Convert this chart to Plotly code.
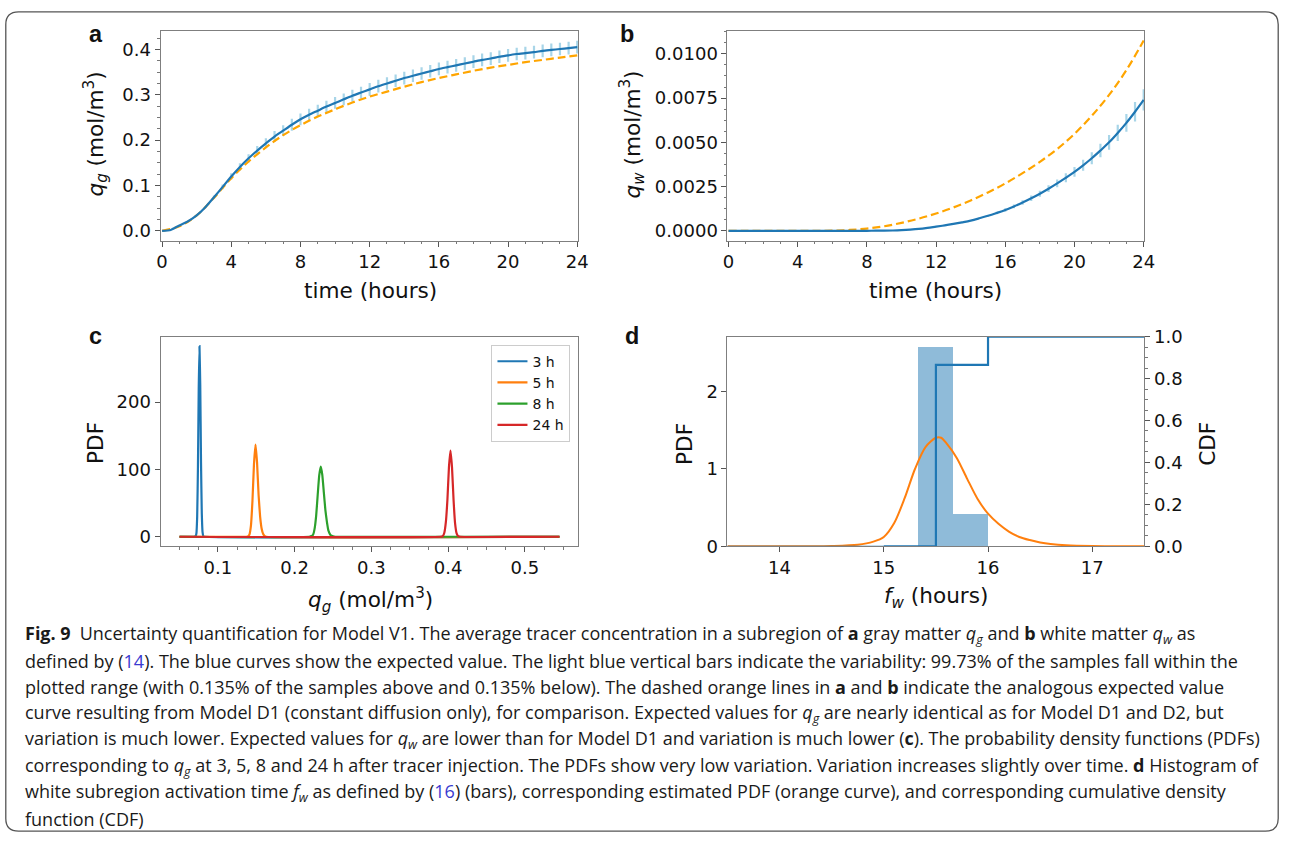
import plotly.graph_objects as go

W, H = 1290, 842
# the photographed page comes back slightly reduced about its centre; positions are
# laid out in reference pixel coordinates and expanded by these factors
SX, SY = 1290 / 1306, 842 / 862
CX, CY = W / 2, 421
DX = 3.5

# ---------------- data ----------------
# panel a: gray matter q_g (V1 expected value, variability, D1 reference)
time_half = [i * 0.5 for i in range(49)]
qg_mean = [0.000, 0.002, 0.012, 0.021, 0.034, 0.052, 0.074, 0.097, 0.120, 0.141,
           0.160, 0.177, 0.193, 0.208, 0.221, 0.234, 0.246, 0.256, 0.265, 0.274,
           0.282, 0.290, 0.298, 0.305, 0.312, 0.319, 0.325, 0.331, 0.337, 0.342,
           0.347, 0.352, 0.357, 0.361, 0.365, 0.369, 0.373, 0.377, 0.380, 0.384,
           0.387, 0.390, 0.392, 0.394, 0.397, 0.399, 0.401, 0.403, 0.405]
qg_spread = [0.000, 0.000, 0.000, 0.000, 0.001, 0.002, 0.004, 0.005, 0.007, 0.008,
             0.009, 0.010, 0.011, 0.012, 0.012, 0.013, 0.013, 0.013, 0.013, 0.013,
             0.013, 0.013, 0.013, 0.013, 0.014, 0.014, 0.014, 0.014, 0.014, 0.014,
             0.014, 0.014, 0.014, 0.014, 0.014, 0.014, 0.014, 0.014, 0.014, 0.014,
             0.014, 0.014, 0.014, 0.014, 0.014, 0.014, 0.014, 0.014, 0.014]
time_hour = list(range(25))
qg_d1 = [0.000, 0.010, 0.034, 0.073, 0.116, 0.153, 0.184, 0.211, 0.233, 0.252,
         0.268, 0.283, 0.296, 0.307, 0.318, 0.328, 0.337, 0.345, 0.353, 0.360,
         0.366, 0.372, 0.377, 0.382, 0.387]

# panel b: white matter q_w
qw_mean = [0, 0, 0, 0, 0, 0, 0, 0, 0, 0, 0, 0, 0, 0, 0, 0,
           0.00000, 0.00001, 0.00001, 0.00002, 0.00004, 0.00007, 0.00011, 0.00017,
           0.00024, 0.00031, 0.00039, 0.00048, 0.00058, 0.00071, 0.00085, 0.00101,
           0.00118, 0.00138, 0.00160, 0.00184, 0.00210, 0.00238, 0.00268, 0.00300,
           0.00333, 0.00370, 0.00410, 0.00454, 0.00500, 0.00553, 0.00610, 0.00673,
           0.00740]
qw_spread = [0, 0, 0, 0, 0, 0, 0, 0, 0, 0, 0, 0, 0, 0, 0, 0,
             0, 0, 0, 0, 0, 0, 0, 0, 0.00001, 0.00001, 0.00002, 0.00002,
             0.00003, 0.00004, 0.00005, 0.00007, 0.00010, 0.00011, 0.00013, 0.00015,
             0.00017, 0.00019, 0.00022, 0.00025, 0.00028, 0.00031, 0.00034, 0.00038,
             0.00042, 0.00046, 0.00050, 0.00055, 0.00060]
qw_d1 = [0, 0, 0, 0, 0, 0, 0.00001, 0.00005, 0.00013, 0.00026, 0.00045, 0.00069,
         0.00098, 0.00132, 0.00172, 0.00217, 0.00268, 0.00326, 0.00390, 0.00462,
         0.00548, 0.00650, 0.00768, 0.00908, 0.01075]

# panel c: PDFs of q_g at given times
pdf_labels = ["3 h", "5 h", "8 h", "24 h"]
pdf3_x = [0.050, 0.069, 0.071, 0.072, 0.073, 0.074, 0.075, 0.076, 0.077, 0.078, 0.079, 0.080, 0.081, 0.083, 0.545]
pdf3_y = [0, 0, 1, 5, 30, 104, 220, 283, 225, 110, 35, 7, 1, 0, 0]
pdf5_x = [0.050, 0.137, 0.139, 0.141, 0.143, 0.145, 0.147, 0.149, 0.151, 0.153, 0.155, 0.157, 0.159, 0.161, 0.163, 0.545]
pdf5_y = [0, 0, 0.5, 3, 16, 53, 108, 137, 110, 62, 30, 12, 4, 1, 0, 0]
pdf8_x = [0.050, 0.219, 0.222, 0.224, 0.226, 0.228, 0.230, 0.232, 0.234, 0.236, 0.238, 0.240, 0.242, 0.244, 0.247, 0.250, 0.253, 0.545]
pdf8_y = [0, 0, 1, 3, 12, 31, 62, 91, 104, 92, 66, 40, 22, 9, 2, 0.5, 0, 0]
pdf24_x = [0.050, 0.390, 0.393, 0.395, 0.397, 0.399, 0.401, 0.403, 0.405, 0.407, 0.409, 0.411, 0.413, 0.416, 0.545]
pdf24_y = [0, 0, 1, 6, 22, 55, 103, 128, 103, 55, 20, 5, 1, 0, 0]

# panel d: activation time f_w
hist_edges = [15.333, 15.667, 16.0]
hist_heights = [2.574, 0.42]
fw_pdf_x = [13.5, 14.25, 14.5, 14.75, 14.9, 15.0, 15.1, 15.2, 15.3, 15.4, 15.5, 15.55,
            15.6, 15.7, 15.8, 15.9, 16.0, 16.1, 16.2, 16.3, 16.4, 16.5, 16.6, 16.75,
            17.0, 17.5]
fw_pdf_y = [0.0, 0.001, 0.004, 0.02, 0.06, 0.12, 0.30, 0.62, 1.00, 1.28, 1.40, 1.40,
            1.33, 1.14, 0.87, 0.61, 0.42, 0.29, 0.19, 0.12, 0.08, 0.05, 0.03, 0.013,
            0.003, 0.0]
cdf_x = [15.0, 15.5, 16.0, 17.5]
cdf_y = [0.0, 0.865, 1.0, 1.0]
cdf_pre_x = [13.5, 15.0]
cdf_pre_y = [0.0, 0.0]

# ---------------- styling ----------------
BLUE = "#1f77b4"
ORANGE_T10 = "#ff7f0e"
GREEN = "#2ca02c"
RED = "#d62728"
DASH_ORANGE = "#ffa500"
LIGHTBLUE = "#a8d5e8"
SPINE = "#7f7f7f"
FONT = "DejaVu Sans"
TICK_SIZE = 18
TITLE_SIZE = 21.6


def px(x):
    return (CX + (x - CX) / SX + DX) / W


def py(y):
    return 1 - (CY + (y - CY) / SY) / H


fig = go.Figure()

# panel a
fig.add_trace(go.Scatter(x=time_half, y=qg_mean, mode="markers",
                         marker=dict(size=1, color="rgba(0,0,0,0)"),
                         error_y=dict(type="data", array=qg_spread, symmetric=True,
                                      color=LIGHTBLUE, thickness=2.2, width=0),
                         xaxis="x", yaxis="y", showlegend=False, hoverinfo="skip"))
fig.add_trace(go.Scatter(x=time_hour, y=qg_d1, mode="lines",
                         line=dict(color=DASH_ORANGE, width=2.2, dash="8px,4px", shape="spline"),
                         xaxis="x", yaxis="y", showlegend=False))
fig.add_trace(go.Scatter(x=time_half, y=qg_mean, mode="lines",
                         line=dict(color=BLUE, width=2.2, shape="spline", smoothing=0.6),
                         xaxis="x", yaxis="y", showlegend=False))

# panel b
fig.add_trace(go.Scatter(x=time_half, y=qw_mean, mode="markers",
                         marker=dict(size=1, color="rgba(0,0,0,0)"),
                         error_y=dict(type="data", array=qw_spread, symmetric=True,
                                      color=LIGHTBLUE, thickness=2.2, width=0),
                         xaxis="x2", yaxis="y2", showlegend=False, hoverinfo="skip"))
fig.add_trace(go.Scatter(x=time_hour, y=qw_d1, mode="lines",
                         line=dict(color=DASH_ORANGE, width=2.2, dash="8px,4px", shape="spline"),
                         xaxis="x2", yaxis="y2", showlegend=False))
fig.add_trace(go.Scatter(x=time_half, y=qw_mean, mode="lines",
                         line=dict(color=BLUE, width=2.2, shape="spline", smoothing=1.0),
                         xaxis="x2", yaxis="y2", showlegend=False))

# panel c
for xs, ys, col, lab in [(pdf3_x, pdf3_y, BLUE, pdf_labels[0]),
                         (pdf5_x, pdf5_y, ORANGE_T10, pdf_labels[1]),
                         (pdf8_x, pdf8_y, GREEN, pdf_labels[2]),
                         (pdf24_x, pdf24_y, RED, pdf_labels[3])]:
    fig.add_trace(go.Scatter(x=xs, y=ys, mode="lines", name=lab,
                             line=dict(color=col, width=2.2, shape="spline", smoothing=0.4),
                             xaxis="x3", yaxis="y3", showlegend=True))

# panel d
centers = [(hist_edges[i] + hist_edges[i + 1]) / 2 for i in range(len(hist_heights))]
widths = [hist_edges[i + 1] - hist_edges[i] for i in range(len(hist_heights))]
fig.add_trace(go.Bar(x=centers, y=hist_heights, width=widths,
                     marker=dict(color="rgba(31,119,180,0.5)", line=dict(width=0)),
                     xaxis="x4", yaxis="y4", showlegend=False))
fig.add_trace(go.Scatter(x=fw_pdf_x, y=fw_pdf_y, mode="lines",
                         line=dict(color=ORANGE_T10, width=2, shape="spline", smoothing=0.8),
                         xaxis="x4", yaxis="y4", showlegend=False))
fig.add_trace(go.Scatter(x=cdf_pre_x, y=cdf_pre_y, mode="lines",
                         line=dict(color=BLUE, width=1.2),
                         xaxis="x4", yaxis="y5", showlegend=False))
fig.add_trace(go.Scatter(x=cdf_x, y=cdf_y, mode="lines",
                         line=dict(color=BLUE, width=2.2, shape="hv"),
                         xaxis="x4", yaxis="y5", showlegend=False))

# ---------------- axes ----------------
def axis(domain, rng, anchor, **kw):
    d = dict(domain=domain, range=rng, anchor=anchor, showgrid=False, zeroline=False,
             showline=True, linecolor=SPINE, linewidth=1, mirror=True,
             ticks="outside", ticklen=5, tickwidth=1, tickcolor="#555",
             tickfont=dict(family=FONT, size=TICK_SIZE, color="#111"))
    d.update(kw)
    return d


minor_style = dict(ticks="outside", ticklen=2.5, tickwidth=1, tickcolor="#777")

top_dom = [py(240), py(30)]
bot_dom = [py(546), py(336)]
left_dom = [px(160), px(578)]
right_dom = [px(727), px(1144)]

fig.update_layout(
    xaxis=axis(left_dom, [-0.09, 24.07], "y", tickmode="linear", tick0=0, dtick=4,
               minor=dict(dtick=1, **minor_style)),
    yaxis=axis(top_dom, [-0.0220, 0.4403], "x", tickmode="linear", tick0=0, dtick=0.1,
               tickformat=".1f", minor=dict(dtick=0.025, **minor_style)),
    xaxis2=axis(right_dom, [-0.06, 24.04], "y2", tickmode="linear", tick0=0, dtick=4,
                minor=dict(dtick=1, **minor_style)),
    yaxis2=axis(top_dom, [-0.000564, 0.01128], "x2", tickmode="linear", tick0=0,
                dtick=0.0025, tickformat=".4f", minor=dict(dtick=0.000625, **minor_style)),
    xaxis3=axis(left_dom, [0.02525, 0.56975], "y3", tickmode="linear", tick0=0.1,
                dtick=0.1, tickformat=".1f", minor=dict(dtick=0.025, **minor_style)),
    yaxis3=axis(bot_dom, [-14.15, 297.15], "x3", tickmode="linear", tick0=0, dtick=100),
    xaxis4=axis(right_dom, [13.5, 17.5], "y4", tickmode="linear", tick0=14, dtick=1),
    yaxis4=axis(bot_dom, [0, 2.704], "x4", tickmode="linear", tick0=0, dtick=1,
                mirror=False),
    yaxis5=axis(bot_dom, [0, 1.0], "x4", overlaying="y4", side="right",
                tickmode="linear", tick0=0, dtick=0.2, tickformat=".1f",
                minor=dict(dtick=0.05, **minor_style), mirror=False),
)

# ---------------- annotations ----------------
ann = []


def text(x, y, s, size, angle=0, family=FONT, xanchor="center", color="#111"):
    ann.append(dict(x=px(x), y=py(y), xref="paper", yref="paper", text=s,
                    showarrow=False, textangle=angle, xanchor=xanchor, yanchor="middle",
                    font=dict(family=family, size=size, color=color)))


QG = "<i>q</i><sub><i>g</i></sub>"
QW = "<i>q</i><sub><i>w</i></sub>"
UNIT = " (mol/m<sup>3</sup>)"

text(95, 133, QG + UNIT, TITLE_SIZE, angle=-90)
text(370, 290, "time (hours)", TITLE_SIZE)
text(632, 133, QW + UNIT, TITLE_SIZE, angle=-90)
text(935, 290, "time (hours)", TITLE_SIZE)
text(95, 443, "PDF", TITLE_SIZE, angle=-90)
text(370, 600, QG + UNIT, TITLE_SIZE)
text(684, 443, "PDF", TITLE_SIZE, angle=-90)
text(936, 597, "<i>f</i><sub><i>w</i></sub> (hours)", TITLE_SIZE)
text(1207, 443, "CDF", TITLE_SIZE, angle=-90)

for lab, x, y in [("a", 95, 33), ("b", 627, 33), ("c", 95, 335), ("d", 632, 335)]:
    text(x, y, "<b>" + lab + "</b>", 23.4, family="Liberation Sans")

CAP_FONT = "Open Sans"
CAP_SIZE = 18.0
LINK = "<span style='color:#3a3ad0'>"
cap_lines = [
    "<b>Fig. 9</b>\u2002Uncertainty quantification for Model V1. The average tracer concentration in a subregion of <b>a</b> gray matter "
    + QG + " and <b>b</b> white matter " + QW + " as",
    "defined by (" + LINK + "14</span>). The blue curves show the expected value. The light blue vertical bars indicate the variability: 99.73% of the samples fall within the",
    "plotted range (with 0.135% of the samples above and 0.135% below). The dashed orange lines in <b>a</b> and <b>b</b> indicate the analogous expected value",
    "curve resulting from Model D1 (constant diffusion only), for comparison. Expected values for " + QG + " are nearly identical as for Model D1 and D2, but",
    "variation is much lower. Expected values for " + QW + " are lower than for Model D1 and variation is much lower (<b>c</b>). The probability density functions (PDFs)",
    "corresponding to " + QG + " at 3, 5, 8 and 24 h after tracer injection. The PDFs show very low variation. Variation increases slightly over time. <b>d</b> Histogram of",
    "white subregion activation time <i>f</i><sub><i>w</i></sub> as defined by (" + LINK + "16</span>) (bars), corresponding estimated PDF (orange curve), and corresponding cumulative density",
    "function (CDF)",
]
cap_y = [634, 660.5, 687, 713.5, 740, 766.5, 793, 819.5]
for s, y in zip(cap_lines, cap_y):
    text(22, y, s, CAP_SIZE, family=CAP_FONT, xanchor="left", color="#1a1a1a")

# rounded border, at the edge of the page
bx0, bx1, by0, by1, r = 0.8, W - 0.8, 0.8, H - 0.8, 13


def ex(x):
    return x / W


def ey(y):
    return 1 - y / H


path = (f"M {ex(bx0 + r)} {ey(by0)} L {ex(bx1 - r)} {ey(by0)} Q {ex(bx1)} {ey(by0)} {ex(bx1)} {ey(by0 + r)} "
        f"L {ex(bx1)} {ey(by1 - r)} Q {ex(bx1)} {ey(by1)} {ex(bx1 - r)} {ey(by1)} "
        f"L {ex(bx0 + r)} {ey(by1)} Q {ex(bx0)} {ey(by1)} {ex(bx0)} {ey(by1 - r)} "
        f"L {ex(bx0)} {ey(by0 + r)} Q {ex(bx0)} {ey(by0)} {ex(bx0 + r)} {ey(by0)} Z")

fig.update_layout(
    width=W, height=H, margin=dict(l=0, r=0, t=0, b=0),
    paper_bgcolor="white", plot_bgcolor="white",
    annotations=ann,
    shapes=[dict(type="path", path=path, xref="paper", yref="paper",
                 line=dict(color="#555555", width=1.3), fillcolor="rgba(0,0,0,0)")],
    legend=dict(x=px(570), y=py(344), xanchor="right", yanchor="top",
                bgcolor="white", bordercolor="#cccccc", borderwidth=1,
                font=dict(family=FONT, size=14, color="#111"),
                itemwidth=30, tracegroupgap=0),
    bargap=0,
    showlegend=True,
)

POST = ("var s=document.createElement('style');"
        "s.textContent='html,body{margin:0!important;padding:0!important;overflow:hidden!important;}';"
        "document.head.appendChild(s);window.scrollTo(0,0);")

fig.write_html("out.html", config={"displayModeBar": False}, post_script=POST)
